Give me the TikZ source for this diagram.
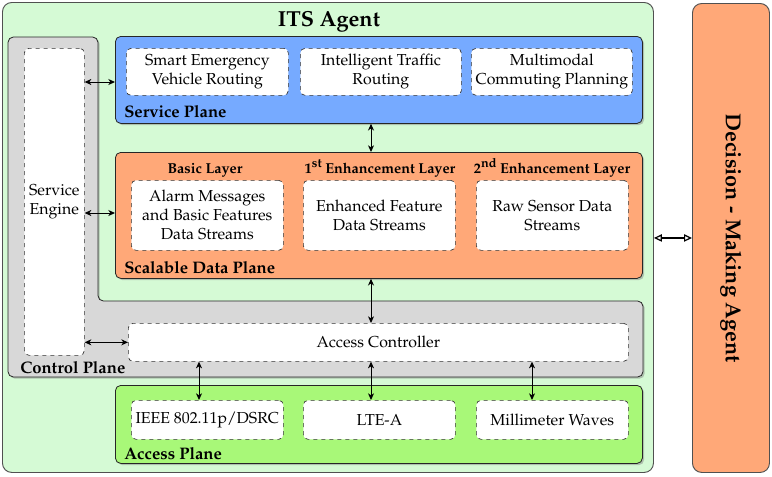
\documentclass[tikz,border=0pt]{standalone}
\usepackage[T1]{fontenc}
\usepackage{mathpazo}
\usetikzlibrary{shadows,arrows.meta,calc}
\definecolor{agentgreen}{RGB}{213,250,213}
\definecolor{svcblue}{RGB}{118,170,255}
\definecolor{dataorange}{RGB}{255,168,120}
\definecolor{accgreen}{RGB}{168,248,120}
\definecolor{ctrlgray}{RGB}{216,216,216}
\definecolor{edgegray}{RGB}{80,80,80}
\begin{document}
\begin{tikzpicture}[x=0.75pt,y=-0.75pt,
  wh/.style 2 args={minimum width=#1*0.75pt, minimum height=#2*0.75pt},
  shad/.style={drop shadow={shadow xshift=1.3pt,shadow yshift=-1.3pt,opacity=0.45}},
  plane/.style={draw=black!85, rounded corners=4pt, line width=0.6pt, shad, anchor=north west, inner sep=0pt},
  inbox/.style={draw=black!80, dashed, line width=0.5pt, fill=white, rounded corners=3.5pt, anchor=north west, align=center, font=\fontsize{11.9}{14.3}\selectfont, inner sep=0pt},
  plabel/.style={font=\bfseries\fontsize{12.5}{14}\selectfont, anchor=base west, inner sep=0pt},
  layer/.style={font=\bfseries\fontsize{10.8}{12}\selectfont, anchor=base, inner sep=0pt},
  arr/.style={{Stealth[length=5pt,width=4.5pt,inset=1.5pt]}-{Stealth[length=5pt,width=4.5pt,inset=1.5pt]}, line width=0.75pt},
  oarr/.style={{Triangle[open,length=6pt,width=5.5pt]}-{Triangle[open,length=6pt,width=5.5pt]}, line width=0.9pt}
]
\useasboundingbox (0,0) rectangle (772,476);
% outer agents
\node[draw=edgegray, fill=agentgreen, rounded corners=7pt, line width=0.7pt, anchor=north west, inner sep=0pt, wh={651}{470}] (its) at (2,2) {};
\node[font=\bfseries\fontsize{16.3}{18}\selectfont, anchor=base, inner sep=0pt] (itst) at (329,26) {ITS Agent};
\node[draw=edgegray, fill=dataorange, rounded corners=7pt, line width=0.7pt, anchor=north west, inner sep=0pt, wh={77}{469}] (dec) at (692,3) {};
\node[rotate=-90, font=\bfseries\fontsize{16.2}{18}\selectfont, inner sep=0pt] (dect) at (731,238) {Decision - Making Agent};
% control plane (L shape)
\draw[fill=ctrlgray, draw=black!85, line width=0.6pt, rounded corners=4pt, shad]
  (8,377) -- (8,37) -- (98,37) -- (98,301) -- (643,301) -- (643,377) -- cycle;
\node[plabel] (cpl) at (20,373) {Control Plane};
% planes
\node[plane, fill=svcblue, wh={527}{87}] (sp) at (115,36) {};
\node[plane, fill=dataorange, wh={527}{126}] (sdp) at (115,152) {};
\node[plane, fill=accgreen, wh={527}{78}] (ap) at (115,385) {};
\node[plabel] (spl) at (124,117) {Service Plane};
\node[plabel] (sdpl) at (124,273) {Scalable Data Plane};
\node[plabel] (apl) at (124,459) {Access Plane};
% service engine & access controller
\node[inbox, wh={60}{307}] (se) at (24,48) {Service\\Engine};
\node[inbox, wh={500}{38}] (ac) at (128,323) {Access Controller};
% service plane boxes
\node[inbox, wh={162}{47}] (s1) at (126,48) {Smart Emergency\\Vehicle Routing};
\node[inbox, wh={161}{47}] (s2) at (300,48) {Intelligent Traffic\\Routing};
\node[inbox, wh={161}{47}] (s3) at (471,48) {Multimodal\\Commuting Planning};
% data plane
\node[layer] (l1) at (205,173) {Basic Layer};
\node[layer] (l2) at (380,173) {1\raisebox{0.8ex}{\fontsize{9.5}{10}\selectfont st} Enhancement Layer};
\node[layer] (l3) at (552,173) {2\raisebox{0.8ex}{\fontsize{9.5}{10}\selectfont nd} Enhancement Layer};
\node[inbox, wh={152}{70}] (d1) at (131,180) {Alarm Messages\\and Basic Features\\Data Streams};
\node[inbox, wh={152}{70}] (d2) at (303,180) {Enhanced Feature\\Data Streams};
\node[inbox, wh={152}{70}] (d3) at (476,180) {Raw Sensor Data\\Streams};
% access plane
\node[inbox, wh={152}{39}] (a1) at (131,400) {IEEE 802.11p/DSRC};
\node[inbox, wh={152}{39}] (a2) at (303,400) {LTE-A};
\node[inbox, wh={152}{39}] (a3) at (476,400) {Millimeter Waves};
% helper coordinates
\coordinate (r1) at (0,82);
\coordinate (r2) at (0,213);
\coordinate (c1) at (199,0);
\coordinate (c2) at (371,0);
\coordinate (c3) at (532,0);
% connectors
\draw[arr] (se.east |- r1) -- (sp.west |- r1);
\draw[arr] (se.east |- r2) -- (sdp.west |- r2);
\draw[arr] (se.east |- ac.west) -- (ac.west);
\draw[arr] (sp.south -| c2) -- (sdp.north -| c2);
\draw[arr] (sdp.south -| c2) -- (ac.north -| c2);
\draw[arr] (ac.south -| c1) -- (a1.north -| c1);
\draw[arr] (ac.south -| c2) -- (a2.north -| c2);
\draw[arr] (ac.south -| c3) -- (a3.north -| c3);
\draw[oarr] (its.east |- dec.west) -- (dec.west);
\end{tikzpicture}
\end{document}
